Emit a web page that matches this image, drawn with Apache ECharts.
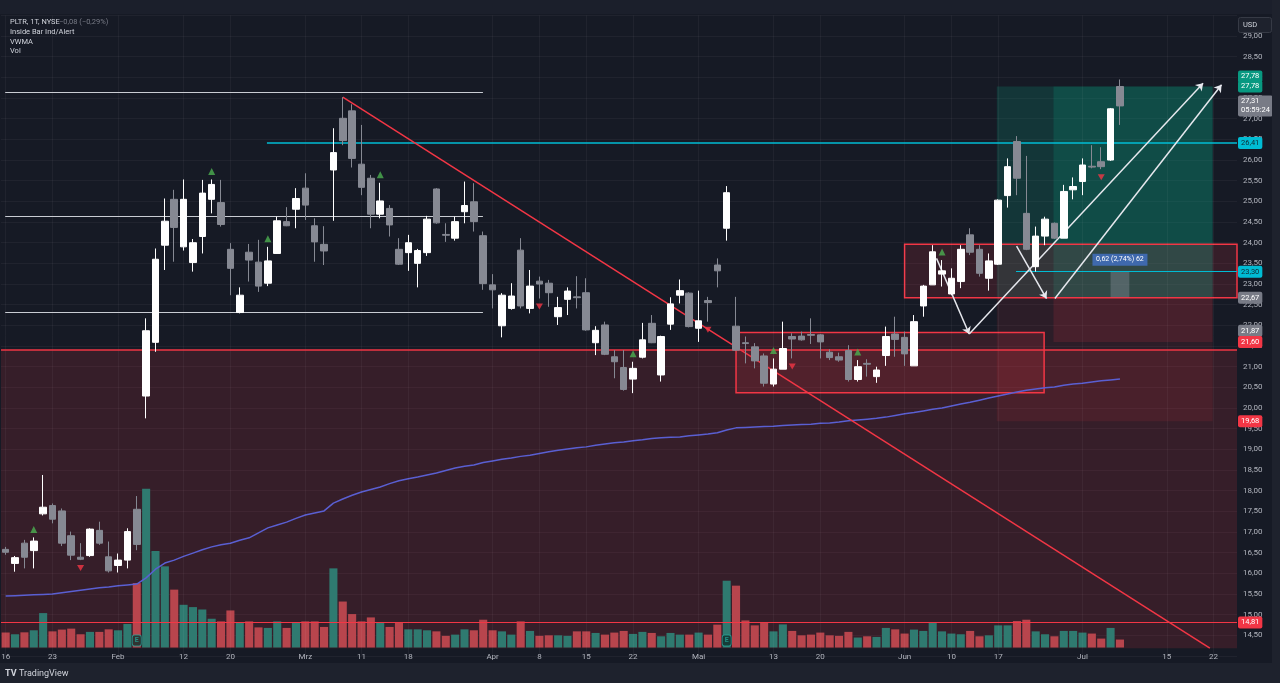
<!DOCTYPE html>
<html><head><meta charset="utf-8">
<script src="https://cdn.jsdelivr.net/npm/echarts@6/dist/echarts.min.js"></script>
<style>html,body{margin:0;padding:0;background:#161a25;}#c{width:1280px;height:683px;}</style>
</head><body><div id="c"></div>
<script>
// ---- trading days (2024) ----
const janDays=[16,17,18,19,22,23,24,25,26,29,30,31];
const febDays=[1,2,5,6,7,8,9,12,13,14,15,16,20,21,22,23,26,27,28,29];
const marDays=[1,4,5,6,7,8,11,12,13,14,15,18,19,20,21,22,25,26,27,28];
const aprDays=[1,2,3,4,5,8,9,10,11,12,15,16,17,18,19,22,23,24,25,26,29,30];
const mayDays=[1,2,3,6,7,8,9,10,13,14,15,16,17,20,21,22,23,24,28,29,30,31];
const junDays=[3,4,5,6,7,10,11,12,13,14,17,18,20,21,24,25,26,27,28];
const julDays=[1,2,3,5,8,9,10,11,12,15,16,17,18,19,22,23,24];

// ---- x tick labels ----
const tickDates=['01-16','01-23','02-01','02-12','02-20','03-01','03-11','03-18','04-01','04-08','04-15','04-22','05-01','05-13','05-20','06-03','06-10','06-17','07-01','07-15','07-22'];
const tickTexts=['16','23','Feb','12','20','Mrz','11','18','Apr','8','15','22','Mai','13','20','Jun','10','17','Jul','15','22'];

// ---- OHLC ----
const opens=[16.58,16.24,16.73,16.55,17.44,17.64,17.51,16.91,16.39,16.43,
17.04,16.40,16.19,16.32,17.55,20.29,21.59,23.94,25.05,23.90,
23.52,24.15,25.05,24.97,23.84,22.31,23.77,23.53,23.02,23.74,
24.51,24.81,25.32,24.41,23.96,25.76,27.01,27.19,25.90,25.56,
24.69,24.83,23.84,23.76,23.50,23.76,25.30,24.20,24.11,24.75,
24.99,24.17,22.98,21.99,22.41,23.82,22.41,23.07,23.02,22.21,
22.63,22.69,22.79,21.58,22.01,21.24,20.98,20.70,21.23,22.05,
20.80,22.03,22.73,22.78,21.93,22.60,23.46,24.35,21.98,21.58,
21.48,21.26,20.58,20.94,21.73,21.74,21.78,21.77,21.35,21.24,
21.39,20.69,21.08,20.76,21.27,21.79,21.71,21.02,22.47,22.98,
23.24,22.76,23.06,24.19,23.84,23.14,23.48,25.14,26.45,24.71,
23.42,24.16,24.47,24.11,25.28,25.48,25.85,25.96,26.00,27.78];
const closes=[16.51,16.38,16.39,16.78,17.60,17.31,16.73,16.44,16.34,17.07,
16.73,16.06,16.32,17.01,16.70,21.87,23.60,24.52,24.37,25.05,
24.00,25.20,25.41,24.44,23.38,22.73,23.58,22.95,23.56,24.53,
24.41,25.07,24.91,24.02,23.80,26.18,26.47,26.04,25.34,24.69,
25.01,24.43,23.48,24.00,23.81,24.57,24.48,24.18,24.51,24.90,
24.51,23.01,22.86,22.73,22.71,22.47,22.95,23.00,22.79,22.43,
22.83,22.67,21.89,21.88,21.30,21.12,20.45,20.96,21.65,21.58,
21.73,22.52,22.84,21.97,22.11,22.55,23.32,25.21,21.40,21.56,
21.14,20.60,20.94,21.44,21.67,21.65,21.76,21.60,21.22,21.16,
20.69,21.00,21.06,20.92,21.73,21.66,21.31,22.09,22.95,23.78,
23.32,23.14,23.84,23.77,23.26,23.56,25.03,25.84,25.56,23.84,
24.16,24.57,24.11,25.24,25.36,25.88,25.83,25.84,27.24,27.31];
const lows=[16.45,16.04,16.12,16.12,17.40,17.21,16.66,16.32,16.32,16.40,
16.69,16.02,16.02,16.12,16.56,19.75,21.36,23.34,23.54,23.81,
23.30,23.74,24.71,24.39,22.73,22.29,23.06,22.81,22.95,23.73,
24.40,24.35,24.55,23.54,23.46,24.53,26.36,25.82,25.15,24.35,
24.59,24.15,23.46,23.32,22.92,23.68,24.46,24.02,24.05,24.47,
24.27,22.86,22.41,21.71,22.38,22.41,22.29,22.65,22.45,22.01,
22.25,22.41,21.87,21.28,21.28,20.72,20.42,20.36,21.20,21.57,
20.64,21.89,22.53,21.95,21.60,22.09,22.92,24.05,21.38,21.08,
20.96,20.52,20.52,20.94,21.20,21.63,21.55,21.20,21.16,21.12,
20.64,20.64,20.76,20.61,21.02,21.24,21.02,21.02,22.21,22.98,
22.94,22.73,22.90,23.70,23.18,22.84,23.46,24.85,25.15,23.82,
23.30,23.94,24.09,24.11,25.05,25.15,25.80,25.78,25.98,26.85];
const highs=[16.64,16.42,16.81,16.87,18.38,17.69,17.57,17.01,16.73,17.09,
17.25,16.77,16.48,17.09,17.87,22.17,23.86,25.07,25.28,25.53,
24.09,25.52,25.53,25.52,23.99,22.92,23.97,24.07,23.90,24.63,
24.86,25.32,25.68,24.59,24.40,26.77,27.52,27.35,26.85,25.64,
25.45,24.91,24.11,24.19,23.85,24.65,25.32,24.47,24.63,25.48,
25.44,24.27,23.24,22.78,23.02,24.11,23.34,23.18,23.10,22.69,
22.92,23.19,23.14,21.98,22.09,21.40,21.40,21.12,22.06,22.25,
21.75,22.68,23.11,22.80,22.84,22.69,23.62,25.37,22.69,21.73,
21.57,21.32,21.20,22.09,21.81,21.85,22.17,21.79,21.42,21.34,
21.52,21.16,21.18,21.00,21.97,22.21,21.85,22.25,22.98,23.94,
23.58,23.38,23.94,24.35,23.94,23.74,25.05,26.04,26.58,26.10,
24.39,24.63,24.49,25.40,25.58,26.04,26.36,26.31,27.26,27.95];

// ---- volume (millions, estimated) ----
const volumes=[17,15,17.2,19.5,39,18.3,20.3,21.4,15,17.7,
17.7,20.6,19.5,26.7,73,180,109.5,92,65.6,48.4,
45.8,43.1,32.6,29.6,42,28.1,29.6,22.8,22.2,29.6,
22.2,28.9,29.6,29.6,23.3,89.7,52.1,37.9,29.6,34.1,
28.1,23.3,28.1,20.6,20.6,19.5,18.3,13.2,14.6,20.6,
19.5,31.5,19.5,18.3,14.6,29.6,18.8,13.2,13.8,13.8,
13.2,18.3,18.3,16.5,14.6,16.9,18.8,15.4,17.7,16.5,
12.7,16.5,14.6,14.6,16.9,14.6,25.9,75.7,70.1,30.7,
25.1,27.8,18.3,26.2,18.8,13.8,14.6,16.9,13.8,13.2,
17.7,11.3,12.7,12,22.2,20.6,15.8,20.3,18.8,27.8,
18.3,15.8,15,18.8,12.7,13.8,25.1,25.1,30,31.5,
18.3,15,12.7,18.8,18.8,16.9,15.8,10.1,22.2,9];

// ---- VWMA ----
const vwma=[15.45,15.46,15.47,15.48,15.49,15.50,15.53,15.56,15.59,15.62,
15.65,15.67,15.70,15.72,15.74,15.89,16.10,16.25,16.32,16.41,
16.49,16.57,16.64,16.69,16.73,16.80,16.86,16.98,17.10,17.17,
17.24,17.33,17.41,17.46,17.51,17.70,17.80,17.89,17.97,18.03,
18.09,18.17,18.24,18.29,18.33,18.38,18.43,18.49,18.55,18.59,
18.62,18.68,18.72,18.76,18.79,18.83,18.86,18.90,18.94,18.98,
19.01,19.04,19.06,19.10,19.13,19.16,19.18,19.21,19.23,19.26,
19.28,19.29,19.30,19.33,19.35,19.37,19.40,19.47,19.52,19.53,
19.54,19.55,19.56,19.58,19.59,19.60,19.61,19.63,19.64,19.66,
19.69,19.71,19.73,19.75,19.78,19.82,19.86,19.89,19.93,19.97,
20.00,20.05,20.10,20.14,20.19,20.24,20.29,20.34,20.39,20.43,
20.46,20.49,20.51,20.55,20.58,20.60,20.63,20.66,20.68,20.70];

// ---- inside-bar markers (bar indices) ----
const insideUp=[3,22,28,40,67,82,91,100];
const insideDown=[8,57,75,84,117];
const earningsBars=[14,77];

// ---- drawings (bar index, price) ----
const whiteLevels=[27.64,24.65,22.31];
const whiteSpan=[-0.05,50.97];
const cyanLevel=26.41, cyanFrom=27.9;
const redLevel=21.40;
const lowLevel=14.81;
const measureLevel=23.30, measureFrom=107.9;
const trendLine=[[36,27.52],[128.6,14.19]];
const zoneBottom=14.19;
const box1=[[78.0,21.83],[110.9,20.37]];
const box2=[[96.0,23.96],[131.5,22.67]];
const posA=[105.85,128.9], posB=[111.9,128.9];
const target=27.78, entry=22.67, stopA=19.68, stopB=21.60;
const measureBox=[[118.0,23.30],[120.0,22.68]];
const measureText='0,62 (2,74%) 62', measureAt=[119.0,23.59];
const arrows=[[[99.41,23.62],[102.9,21.79]],[[102.9,21.79],[127.88,27.86]],[[107.96,23.92],[111.16,22.65]],[[112.05,22.65],[129.85,27.82]]];
const tagPrices=[27.78,28.02,27.31,26.41,23.30,22.67,21.87,21.60,19.68,14.81];
const tagTexts=['27,78','27,78','27,31\n05:59:24','26,41','23,30','22,67','21,87','21,60','19,68','14,81'];
const tagKinds=['green','green','gray','cyan','cyan','gray','gray','red','red','red'];

// ---- build ----
const months=[['01',janDays],['02',febDays],['03',marDays],['04',aprDays],['05',mayDays],['06',junDays],['07',julDays]];
const categories=months.flatMap(([m,ds])=>ds.map(d=>m+'-'+String(d).padStart(2,'0')));
const tickMap={}; tickDates.forEach((d,k)=>tickMap[d]=tickTexts[k]);
const candleData=opens.map((o,i)=>[o,closes[i],lows[i],highs[i]]);
const fmt=v=>v.toFixed(2).replace('.',',');

const tagStyle={
  green:{backgroundColor:'#089981',color:'#ffffff'},
  gray:{backgroundColor:'#787b86',color:'#ffffff'},
  cyan:{backgroundColor:'#00bcd4',color:'#0d2b33'},
  red:{backgroundColor:'#f23645',color:'#ffffff'}
};
const RED='#f23645';
const redFill='rgba(242,54,69,0.15)';
const tealFill='rgba(8,153,129,0.22)';

const seg=(a,b,style)=>[{coord:a,lineStyle:style},{coord:b}];

const option={
  backgroundColor:'#161a25',
  animation:false,
  textStyle:{fontFamily:'Roboto, "Noto Sans", sans-serif'},
  grid:[
    {left:1,right:43,top:15.4,bottom:27,containLabel:false,outerBoundsMode:'none'},
    {left:1,right:43,top:449,bottom:35.5,containLabel:false,outerBoundsMode:'none'}
  ],
  xAxis:[
    {type:'category',gridIndex:0,data:categories,boundaryGap:true,axisLine:{show:false},axisTick:{show:false},axisLabel:{show:false},splitLine:{show:false}},
    {type:'value',gridIndex:0,min:-0.5,max:131.5,show:false,splitLine:{show:false}},
    {type:'category',gridIndex:1,data:categories,boundaryGap:true,axisLine:{show:false},axisTick:{show:false},splitLine:{show:false},
     axisLabel:{interval:(i,v)=>v in tickMap,formatter:v=>tickMap[v]||'',color:'#b2b5be',fontSize:8,margin:5}}
  ],
  yAxis:[
    {type:'value',gridIndex:0,position:'right',min:14,max:29.5,interval:0.5,
     axisLine:{show:false},axisTick:{show:false},
     axisLabel:{color:'#b2b5be',fontSize:8,margin:6,formatter:v=>(v<14.4||v>29.1)?'':fmt(v)},
     splitLine:{show:true,lineStyle:{color:'rgba(255,255,255,0.045)',width:1}}},
    {type:'value',gridIndex:1,min:0,max:225,show:false,splitLine:{show:false}}
  ],
  series:[
    // zones
    {type:'line',xAxisIndex:1,yAxisIndex:0,data:[[-10,-10]],showSymbol:false,lineStyle:{opacity:0},silent:true,z:1,
     markArea:{silent:true,data:[
       [{coord:[-0.5,redLevel],itemStyle:{color:redFill}},{coord:[131.5,zoneBottom]}],
       [{coord:[posA[0],target],itemStyle:{color:tealFill}},{coord:[posA[1],entry]}],
       [{coord:[posB[0],target],itemStyle:{color:tealFill}},{coord:[posB[1],entry]}],
       [{coord:[posA[0],entry],itemStyle:{color:'rgba(242,54,69,0.10)'}},{coord:[posA[1],stopA]}],
       [{coord:[posB[0],entry],itemStyle:{color:'rgba(242,54,69,0.14)'}},{coord:[posB[1],stopB]}],
       [{coord:box1[0],itemStyle:{color:redFill,borderColor:RED,borderWidth:1.5}},{coord:box1[1]}],
       [{coord:box2[0],itemStyle:{color:redFill,borderColor:RED,borderWidth:1.5}},{coord:box2[1]}],
       [{coord:measureBox[0],itemStyle:{color:'rgba(150,155,165,0.35)'}},{coord:measureBox[1]}]
     ]},
     markLine:{silent:true,symbol:'none',label:{show:false},
       data:tickDates.map(d=>({xAxis:categories.indexOf(d),lineStyle:{color:'rgba(255,255,255,0.045)',width:1,type:'solid'}}))}
    },
    // volume
    {type:'bar',xAxisIndex:2,yAxisIndex:1,data:volumes,barWidth:'86%',z:2,silent:true,
     itemStyle:{color:p=>closes[p.dataIndex]>=opens[p.dataIndex]?'#2f7a70':'#b8454d'}},
    // VWMA
    {type:'line',xAxisIndex:0,yAxisIndex:0,data:vwma,showSymbol:false,silent:true,z:3,
     lineStyle:{color:'#5a5fd2',width:1.5}},
    // horizontal lines + trend line
    {type:'line',xAxisIndex:1,yAxisIndex:0,data:[[-10,-10]],showSymbol:false,lineStyle:{opacity:0},silent:true,z:4,
     markLine:{silent:true,symbol:'none',label:{show:false},data:[
       ...whiteLevels.map(p=>seg([whiteSpan[0],p],[whiteSpan[1],p],{color:'#c9ccd3',width:1,type:'solid'})),
       seg([cyanFrom,cyanLevel],[131.5,cyanLevel],{color:'#00bcd4',width:1.5,type:'solid'}),
       seg([measureFrom,measureLevel],[131.5,measureLevel],{color:'#00bcd4',width:1.2,type:'solid'}),
       seg([-0.5,redLevel],[131.5,redLevel],{color:RED,width:1.5,type:'solid'}),
       seg([-0.5,lowLevel],[131.5,lowLevel],{color:RED,width:1.2,type:'solid'}),
       seg(trendLine[0],trendLine[1],{color:RED,width:1.5,type:'solid'})
     ]}},
    // candles
    {type:'candlestick',xAxisIndex:0,yAxisIndex:0,data:candleData,barWidth:7,z:5,silent:true,
     itemStyle:{color:'#ffffff',color0:'#868993',borderColor:'#ffffff',borderColor0:'#868993',borderWidth:1}},
    // arrows
    {type:'line',xAxisIndex:1,yAxisIndex:0,data:[[-10,-10]],showSymbol:false,lineStyle:{opacity:0},silent:true,z:6,
     markLine:{silent:true,symbol:['none','arrow'],symbolSize:7,label:{show:false},
       data:arrows.map(a=>seg(a[0],a[1],{color:'#e6e8ee',width:1.5,type:'solid'}))},
     markPoint:{silent:true,data:[{coord:measureAt,symbol:'rect',symbolSize:[55,12],itemStyle:{color:'#3f69ad'},
       label:{show:true,position:'inside',formatter:measureText,color:'#ffffff',fontSize:7}}]}},
    // inside bar markers
    {type:'scatter',xAxisIndex:1,yAxisIndex:0,data:insideUp.map(i=>[i,highs[i]]),symbol:'triangle',symbolSize:7,symbolOffset:[0,-8],
     itemStyle:{color:'#4caf50'},z:6,silent:true},
    {type:'scatter',xAxisIndex:1,yAxisIndex:0,data:insideDown.map(i=>[i,lows[i]]),symbol:'path://M0,0 L10,0 L5,9 Z',symbolSize:[7,6],symbolOffset:[0,8],
     itemStyle:{color:RED},z:6,silent:true},
    // earnings markers
    {type:'scatter',xAxisIndex:2,yAxisIndex:1,data:earningsBars.map(i=>[i,0]),symbol:'roundRect',symbolSize:[9,11],symbolOffset:[0,-7],
     itemStyle:{color:'#0f2e2b',borderColor:'#26a69a',borderWidth:1},z:7,silent:true,
     label:{show:true,position:'inside',formatter:'E',color:'#26a69a',fontSize:7,fontWeight:'bold'}},
    // price tags on axis
    {type:'line',xAxisIndex:1,yAxisIndex:0,data:[[-10,-10]],showSymbol:false,lineStyle:{opacity:0},silent:true,z:8,
     markLine:{silent:true,symbol:'none',data:tagPrices.map((p,k)=>({yAxis:p,lineStyle:{color:'rgba(0,0,0,0)',width:0},
       label:Object.assign({show:true,position:'end',distance:1,formatter:tagTexts[k],fontSize:7.5,padding:[2,3,1,3],borderRadius:2,lineHeight:9},tagStyle[tagKinds[k]])}))}}
  ],
  graphic:[
    {type:'rect',left:0,top:0,shape:{width:1280,height:14},style:{fill:'#1b1f2b'},z:100},
    {type:'rect',left:0,top:663,shape:{width:1280,height:20},style:{fill:'#1e222d'},z:100},
    {type:'rect',left:1272,top:0,shape:{width:8,height:683},style:{fill:'#1e222d'},z:100},
    {type:'text',left:10,top:18,style:{text:'PLTR, 1T, NYSE',fill:'#d1d4dc',font:'7.5px Roboto'},z:100},
    {type:'text',left:59,top:18,style:{text:'−0,08 (−0,29%)',fill:'#787b86',font:'7.5px Roboto'},z:100},
    {type:'text',left:10,top:28.5,style:{text:'Inside Bar Ind/Alert',fill:'#d1d4dc',font:'7.5px Roboto'},z:100},
    {type:'text',left:10,top:38,style:{text:'VWMA',fill:'#d1d4dc',font:'7.5px Roboto'},z:100},
    {type:'text',left:10,top:47.5,style:{text:'Vol',fill:'#d1d4dc',font:'7.5px Roboto'},z:100},
    {type:'rect',left:1238,top:17,shape:{width:33,height:15,r:2},style:{fill:'#1e222d',stroke:'#363a45',lineWidth:1},z:100},
    {type:'text',left:1243,top:21,style:{text:'USD',fill:'#d1d4dc',font:'7.5px Roboto'},z:101},
    {type:'text',left:5,top:669,style:{text:'TV',fill:'#d1d4dc',font:'bold 9px Roboto'},z:101},
    {type:'text',left:19,top:669,style:{text:'TradingView',fill:'#d1d4dc',font:'9px Roboto'},z:101}
  ]
};
const chart=echarts.init(document.getElementById('c'),null,{renderer:'canvas'});
chart.setOption(option);
</script>
</body></html>
